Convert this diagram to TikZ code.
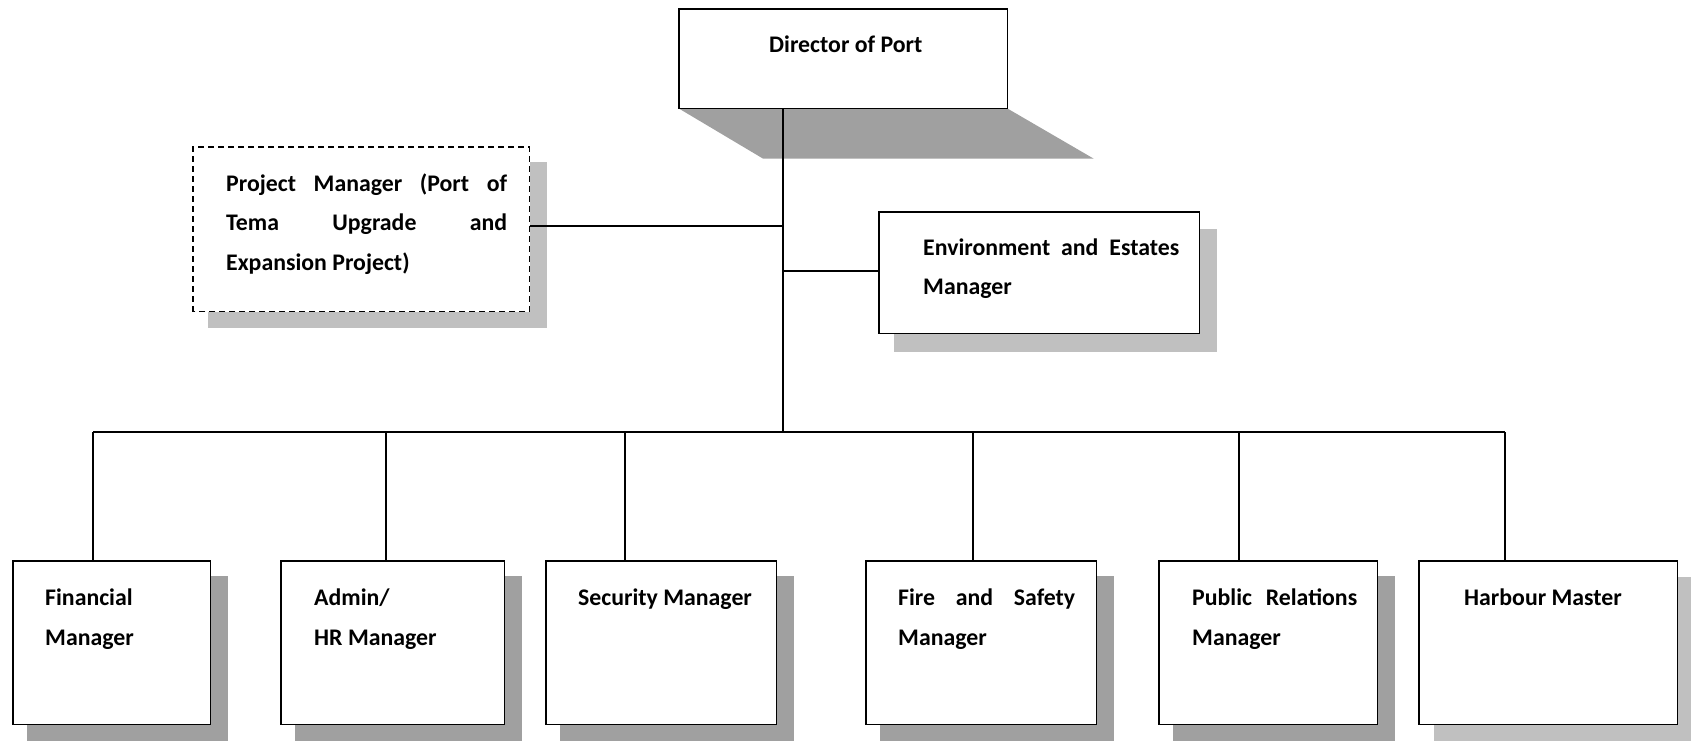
\documentclass[tikz,border=0pt]{standalone}
\usepackage{fontspec}
\setmainfont{Carlito}
\usetikzlibrary{calc}
\definecolor{shdark}{HTML}{A0A0A0}
\definecolor{shlight}{HTML}{C0C0C0}
\tikzset{
  box/.style={draw=black, line width=1.6pt, fill=white, rectangle, inner sep=0pt, anchor=north west},
  dbox/.style={box, dash pattern=on 6pt off 4pt},
  lbl/.style={inner sep=0pt, anchor=base west, font=\fontsize{23.8}{40}\selectfont\bfseries},
  conn/.style={draw=black, line width=1.5pt},
}
\newcommand{\twolines}[3][40pt]{\vtop{\baselineskip=#1\hbox{#2}\hbox{#3}}}
\begin{document}
\begin{tikzpicture}[x=1pt,y=-1pt]
\useasboundingbox (0,0) rectangle (1691,740);
% boxes (positions)
\path (679,9) node[box, minimum width=327pt, minimum height=98pt, draw=none, fill=none] (dir) {};
\path (193,147) node[box, minimum width=335pt, minimum height=163pt, draw=none, fill=none] (pm) {};
\path (879,212) node[box, minimum width=319pt, minimum height=120pt, draw=none, fill=none] (env) {};
\path (13,561) node[box, minimum width=196pt, minimum height=162pt, draw=none, fill=none] (fin) {};
\path (281,561) node[box, minimum width=222pt, minimum height=162pt, draw=none, fill=none] (adm) {};
\path (546,561) node[box, minimum width=229pt, minimum height=162pt, draw=none, fill=none] (sec) {};
\path (866,561) node[box, minimum width=229pt, minimum height=162pt, draw=none, fill=none] (fire) {};
\path (1159,561) node[box, minimum width=217pt, minimum height=162pt, draw=none, fill=none] (pr) {};
\path (1419,561) node[box, minimum width=257pt, minimum height=162pt, draw=none, fill=none] (hm) {};
% shadows
\fill[shdark] (dir.south west) -- ($(dir.south west)+(84,50)$) -- ($(dir.south east)+(86,50)$) -- (dir.south east) -- cycle;
\fill[shlight] ($(pm.south west)+(15,16)$) rectangle ($(pm.north east)+(17,15)$);
\fill[shlight] ($(env.south west)+(15,18)$) rectangle ($(env.north east)+(17,17)$);
\foreach \n in {fin,adm,sec,fire,pr}{
  \fill[shdark] ($(\n.south west)+(14,17)$) rectangle ($(\n.north east)+(17,15)$);
}
\fill[shlight] ($(hm.south west)+(15,17)$) rectangle ($(hm.north east)+(17,16)$);
% visible boxes
\foreach \n in {dir,env,fin,adm,sec,fire,pr,hm}{
  \draw[draw=black, line width=1.6pt, fill=white] (\n.south west) rectangle (\n.north east);
}
\draw[dbox, line width=1.6pt] (pm.south west) rectangle (pm.north east);
% connector coordinates
\coordinate (t0) at (783,107);
\coordinate (j1) at (783,226);
\coordinate (j2) at (783,271);
\coordinate (bar) at (783,432);
\coordinate (d1) at (93,432);
\coordinate (d2) at (386,432);
\coordinate (d3) at (625,432);
\coordinate (d4) at (973,432);
\coordinate (d5) at (1239,432);
\coordinate (d6) at (1505,432);
% connectors
\draw[conn] (t0 |- dir.south) -- (bar);
\draw[conn] (pm.east |- j1) -- (j1);
\draw[conn] (env.west |- j2) -- (j2);
\draw[conn] (d1) -- (d6);
\draw[conn] (d1) -- (d1 |- fin.north);
\draw[conn] (d2) -- (d2 |- adm.north);
\draw[conn] (d3) -- (d3 |- sec.north);
\draw[conn] (d4) -- (d4 |- fire.north);
\draw[conn] (d5) -- (d5 |- pr.north);
\draw[conn] (d6) -- (d6 |- hm.north);
% texts
\node[lbl] (dirt) at (769,52) {Director of Port};
\node[lbl] (pmt) at (226,191) {\vtop{\baselineskip=39.5pt
  \hbox to 281pt{Project\hfill Manager\hfill (Port\hfill of}
  \hbox to 281pt{Tema\hfill Upgrade\hfill and}
  \hbox{Expansion Project)}}};
\node[lbl] (envt) at (923,255) {\vtop{\baselineskip=39pt
  \hbox to 256pt{Environment\hfill and\hfill Estates}
  \hbox{Manager}}};
\node[lbl] (fint) at (45,605) {\twolines{Financial}{Manager}};
\node[lbl] (admt) at (314,605) {\twolines{Admin/}{HR Manager}};
\node[lbl] (sect) at (578,605) {Security Manager};
\node[lbl] (firet) at (898,605) {\twolines{\hbox to 177pt{Fire\hfill and\hfill Safety}}{Manager}};
\node[lbl] (prt) at (1192,605) {\twolines{\hbox to 165pt{Public\hfill Relations}}{Manager}};
\node[lbl] (hmt) at (1464,605) {Harbour Master};
\end{tikzpicture}
\end{document}
